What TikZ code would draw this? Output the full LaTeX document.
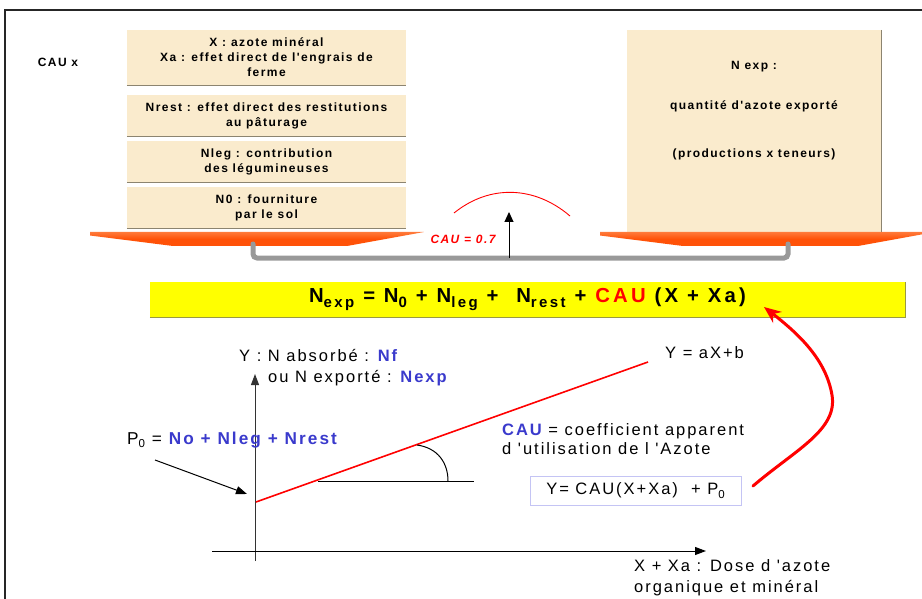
\documentclass[tikz,border=0pt]{standalone}
\usepackage{fontspec}
\setmainfont{Liberation Sans}
\newfontfamily\bxfont[LetterSpace=12]{Liberation Sans}
\newfontfamily\gfont[LetterSpace=12]{Liberation Sans}
\newfontfamily\eqfont[LetterSpace=16]{Liberation Sans}
\usetikzlibrary{arrows.meta}
\definecolor{beige}{HTML}{FAEBCD}
\definecolor{beigeline}{HTML}{8C8470}
\definecolor{orng}{HTML}{FF5208}
\definecolor{orngtop}{HTML}{FF7A3A}
\definecolor{conn}{HTML}{999999}
\definecolor{blueT}{HTML}{3A3ACC}
\definecolor{yel}{HTML}{FFFF00}
\definecolor{yelline}{HTML}{9A9A40}
\definecolor{lav}{HTML}{C4C4F4}
\newcommand\sbs[1]{\raisebox{-5pt}{\fontsize{15}{15}\selectfont #1}}
\newcommand\psb[1]{\raisebox{-3.5pt}{\fontsize{11.5}{11.5}\selectfont #1}}
\tikzset{
  beigebox/.style={fill=beige, draw=none, inner sep=0pt, align=center,
    font=\bxfont\fontsize{12}{15}\selectfont\bfseries},
  boxtext/.style={inner sep=0pt, font=\bxfont\fontsize{12}{15}\selectfont\bfseries},
  shadowline/.style={draw=beigeline, line width=1pt},
  trap/.style={top color=orngtop, bottom color=orng, middle color=orng, draw=none},
  connector/.style={draw=conn, line width=5pt, line cap=round, rounded corners=4pt},
  gtext/.style={inner sep=0pt, font=\gfont\fontsize{16.5}{19}\selectfont, align=left},
  axis/.style={draw=black!80, line width=1pt},
}
\newcommand\bb[1]{{\bfseries\color{blueT}#1}}
\begin{document}
\begin{tikzpicture}[x=1pt,y=-1pt]
\useasboundingbox (0,0) rectangle (922,599);
% frame
\draw[line width=1.6pt, black!85] (5,610) -- (5,10) -- (935,10);
% left label
\node[boxtext] (caux) at (58,62) {CAU x};
% left boxes
\node[beigebox, minimum width=279pt, minimum height=55pt] (b1) at (266.5,57.5)
  {X : azote minéral\\Xa : effet direct de l'engrais de\\ferme};
\node[beigebox, minimum width=279pt, minimum height=41pt] (b2) at (266.5,115.5)
  {Nrest : effet direct des restitutions\\au pâturage};
\node[beigebox, minimum width=279pt, minimum height=41pt] (b3) at (266.5,161.5)
  {Nleg : contribution\\des légumineuses};
\node[beigebox, minimum width=279pt, minimum height=41pt] (b4) at (266.5,207.5)
  {N0 : fourniture\\par le sol};
\foreach \b in {b1,b2,b3,b4} \draw[shadowline] (\b.south west) -- (\b.south east);
% right box
\node[beigebox, minimum width=254pt, minimum height=202pt] (rb) at (754,131) {};
\draw[shadowline] (rb.north east) -- (rb.south east);
\node[boxtext] (rt1) at (754,67) {N exp :};
\node[boxtext] (rt2) at (754,106) {quantité d'azote exporté};
\node[boxtext] (rt3) at (754,154) {(productions x teneurs)};
% orange trapezoids
\path[trap] (90,232) -- (424,232) -- (347,246) -- (173,246) -- (90,235.5) -- cycle;
\path[trap] (600,232) -- (935,232) -- (858,246) -- (683,246) -- (600,235.5) -- cycle;
\coordinate (lt) at (253,244);
\coordinate (rt) at (788,244);
\draw[connector] (lt) -- (253,258) -- (788,258) -- (rt);
% arrow and arc
\coordinate (abase) at (509,258);
\coordinate (atip) at (509,212);
\draw[line width=1pt, -{Triangle[length=10pt,width=9pt]}] (abase) -- (atip);
\draw[red, line width=0.9pt] (454,213) .. controls (490,184) and (535,186) .. (570,216);
\node[inner sep=0pt, text=red, font=\bxfont\fontsize{12}{14}\selectfont\bfseries\itshape] (cau07) at (463,239.5) {CAU = 0.7};
% yellow band
\node[fill=yel, minimum width=755pt, minimum height=35pt, inner sep=0pt,
  font=\eqfont\fontsize{20.3}{22}\selectfont\bfseries] (eq) at (527.5,299.5)
  {N\sbs{exp} = N\sbs{0} + N\sbs{leg} + \ N\sbs{rest} + \textcolor{red}{CAU} (X + Xa)};
\draw[draw=yelline, line width=1pt] (eq.south west) -- (eq.south east) -- (eq.north east);
% graph
\coordinate (yb) at (255,561);
\coordinate (yt) at (255,374);
\coordinate (xl) at (212,551);
\coordinate (xr) at (706,551);
\draw[axis, -{Triangle[length=11pt,width=8pt]}] (yb) -- (yt);
\draw[line width=1pt, black, -{Triangle[length=11pt,width=8pt]}] (xl) -- (xr);
\coordinate (l0) at (256,502);
\coordinate (l1) at (648,362);
\draw[red, line width=1.6pt] (l0) -- (l1);
\coordinate (h0) at (318,481);
\coordinate (h1) at (474,481);
\draw[line width=1pt] (h0) -- (h1);
\draw[line width=1pt] (417,445) .. controls (438,448) and (448,463) .. (448,481);
% labels
\node[gtext, anchor=west] (ylab1) at (239,356) {Y : N absorbé : \bb{Nf}};
\node[gtext, anchor=west] (ylab2) at (268,378) {ou N exporté : \bb{Nexp}};
\node[gtext, anchor=west, font=\gfont\fontsize{17.2}{19}\selectfont] (p0) at (127,440) {P\psb{0} = \bb{No + Nleg + Nrest}};
\coordinate (p0s) at (155,460);
\coordinate (p0t) at (247,494);
\draw[line width=1pt, -{Triangle[length=11pt,width=8pt]}] (p0s) -- (p0t);
\node[gtext, anchor=west] (yax) at (665,353) {Y = aX+b};
\node[gtext, anchor=west] (caudef) at (502,439.5) {\bb{CAU} = coefficient apparent\\d 'utilisation de l 'Azote};
\node[gtext, draw=lav, line width=1pt, minimum width=211pt, minimum height=29pt, inner xsep=9pt]
  (yeq) at (635.5,490.5) {Y= CAU(X+Xa) \ + P\psb{0}};
\node[gtext, anchor=west, align=left, font=\gfont\fontsize{16.5}{21}\selectfont] (xlab) at (634,577.5)
  {X + Xa : Dose d 'azote\\organique et minéral};
% red curved arrow
\coordinate (cs) at (753,486);
\coordinate (ce) at (764,307);
\draw[red, line width=3pt, line cap=round, -{Stealth[length=17pt,width=14pt]}]
  (cs) .. controls (795,450) and (838,430) .. (832,395)
       .. controls (826,360) and (800,335) .. (ce);
\end{tikzpicture}
\end{document}
